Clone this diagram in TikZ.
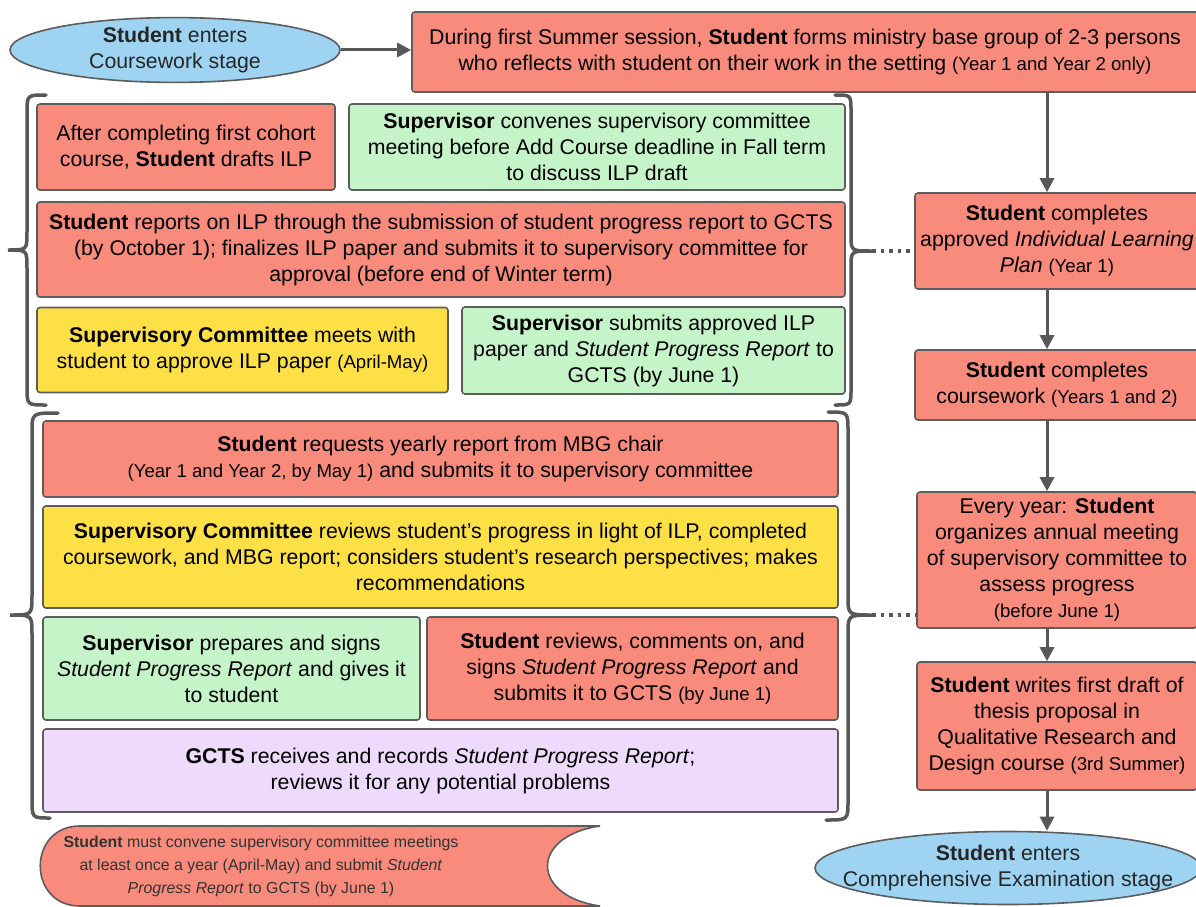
\documentclass[tikz,border=0pt]{standalone}
\usepackage{fontspec}
\setmainfont{Liberation Sans}
\usetikzlibrary{shapes.geometric, arrows.meta}
\definecolor{boxred}{RGB}{249,139,125}
\definecolor{boxgreen}{RGB}{197,244,200}
\definecolor{boxyellow}{RGB}{252,224,70}
\definecolor{boxpurple}{RGB}{238,218,250}
\definecolor{stageblue}{RGB}{158,212,242}
\definecolor{edgegray}{RGB}{92,92,92}
\definecolor{linegray}{RGB}{88,88,88}
\newcommand{\mainsize}{\fontsize{21.3}{26}\selectfont}
\newcommand{\smallnote}[1]{{\fontsize{18.6}{26}\selectfont #1}}
\tikzstyle{box} = [rectangle, rounded corners=3pt, draw=edgegray, line width=1.6pt, inner sep=0pt, align=center, text=black, font=\mainsize]
\tikzstyle{studentbox} = [box, fill=boxred]
\tikzstyle{supbox} = [box, fill=boxgreen]
\tikzstyle{combox} = [box, fill=boxyellow]
\tikzstyle{gctsbox} = [box, fill=boxpurple]
\tikzstyle{stage} = [ellipse, draw=edgegray, line width=1.6pt, fill=stageblue, inner sep=0pt, align=center, text=black!85, font=\mainsize]
\tikzstyle{arrow} = [line width=3pt, draw=linegray, -{Triangle[length=14pt,width=14pt]}]
\tikzstyle{curly} = [line width=3.5pt, draw=linegray, line cap=round]
\tikzstyle{dotline} = [line width=3.5pt, draw=linegray, dash pattern=on 3.5pt off 5pt]

\begin{document}
\begin{tikzpicture}[x=1pt, y=-1pt, node distance=100pt]
\useasboundingbox (0,0) rectangle (1196,907);
\fill[white] (0,0) rectangle (1196,907);

\node (start) [stage, minimum width=330pt, minimum height=60pt] at (175,50) {\makebox[0pt]{\textbf{Student} enters}\\\makebox[0pt]{Coursework stage}};
\node (mbg) [studentbox, minimum width=786pt, minimum height=80pt] at (805,52) {During first Summer session, \textbf{Student} forms ministry base group of 2-3 persons\\who reflects with student on their work in the setting \smallnote{(Year 1 and Year 2 only)}};
\draw [arrow] (start.east) -- (start.east -| mbg.west);

% right column
\node (ilp) [studentbox, minimum width=284pt, minimum height=96pt] at (1057,241) {\textbf{Student} completes\\approved \textit{Individual Learning}\\\textit{Plan} \smallnote{(Year 1)}};
\draw [arrow] ([xshift=-10pt]ilp.north |- mbg.south) -- ([xshift=-10pt]ilp.north);
\node (course) [studentbox, below of=ilp, yshift=-44pt, minimum width=284pt, minimum height=70pt] {\textbf{Student} completes\\coursework \smallnote{(Years 1 and 2)}};
\draw [arrow] ([xshift=-10pt]ilp.south) -- ([xshift=-10pt]course.north);
\node (annual) [studentbox, below of=course, yshift=-75pt, minimum width=280pt, minimum height=136pt] {Every year: \textbf{Student}\\organizes annual meeting\\of supervisory committee to\\assess progress\\\smallnote{(before June 1)}};
\draw [arrow] ([xshift=-10pt]course.south) -- ([xshift=-10pt]annual.north);
\node (draft) [studentbox, below of=annual, yshift=-66pt, minimum width=280pt, minimum height=128pt] {\textbf{Student} writes first draft of\\thesis proposal in\\Qualitative Research and\\Design course \smallnote{(3rd Summer)}};
\draw [arrow] ([xshift=-10pt]annual.south) -- ([xshift=-10pt]draft.north);
\node (exam) [stage, below of=draft, yshift=-42pt, xshift=-49pt, minimum width=386pt, minimum height=73pt] {\makebox[0pt]{\textbf{Student} enters}\\\makebox[0pt]{Comprehensive Examination stage}};
\draw [arrow] ([xshift=-10pt]draft.south) -- ([xshift=-10pt]draft.south |- exam.north);

% first year group
\node (cohort) [studentbox, minimum width=298pt, minimum height=86pt] at (186,147) {After completing first cohort\\course, \textbf{Student} drafts ILP};
\node (convene) [supbox, minimum width=496pt, minimum height=86pt] at (597,147) {\textbf{Supervisor} convenes supervisory committee\\meeting before Add Course deadline in Fall term\\to discuss ILP draft};
\node (report) [studentbox, minimum width=808pt, minimum height=95pt] at (441,249.5) {\textbf{Student} reports on ILP through the submission of student progress report to GCTS\\(by October 1); finalizes ILP paper and submits it to supervisory committee for\\approval (before end of Winter term)};
\node (approve) [combox, minimum width=411pt, minimum height=85pt] at (242.5,350) {\textbf{Supervisory Committee} meets with\\student to approve ILP paper \smallnote{(April-May)}};
\node (submit) [supbox, minimum width=383pt, minimum height=87pt] at (653.5,350.5) {\textbf{Supervisor} submits approved ILP\\paper and \textit{Student Progress Report} to\\GCTS (by June 1)};

\draw [curly] (46,95) .. controls (27,95) .. (27,113) -- (27,232) .. controls (27,250) .. (8,250)
              .. controls (27,250) .. (27,268) -- (27,387) .. controls (27,405) .. (46,405);
\draw [curly] (835,95) .. controls (851,95) .. (851,111) -- (851,235) .. controls (851,251) .. (872,251)
              .. controls (851,251) .. (851,267) -- (851,389) .. controls (851,405) .. (835,405);
\coordinate (tipA) at (872,251);
\draw [dotline] (tipA) -- (tipA -| ilp.west);

% yearly group
\node (request) [studentbox, minimum width=795pt, minimum height=76pt] at (440.5,459) {\textbf{Student} requests yearly report from MBG chair\\\smallnote{(Year 1 and Year 2, by May 1)} and submits it to supervisory committee};
\node (review) [combox, minimum width=795pt, minimum height=102pt] at (440.5,557) {\textbf{Supervisory Committee} reviews student's progress in light of ILP, completed\\coursework, and MBG report; considers student's research perspectives; makes\\recommendations};
\node (prepare) [supbox, minimum width=377pt, minimum height=103pt] at (231.5,668.5) {\textbf{Supervisor} prepares and signs\\\textit{Student Progress Report} and gives it\\to student};
\node (signs) [studentbox, minimum width=411pt, minimum height=103pt] at (632.5,668.5) {\textbf{Student} reviews, comments on, and\\signs \textit{Student Progress Report} and\\submits it to GCTS \smallnote{(by June 1)}};
\node (records) [gctsbox, minimum width=795pt, minimum height=83pt] at (440.5,770.5) {\textbf{GCTS} receives and records \textit{Student Progress Report};\\reviews it for any potential problems};

\draw [curly] (58,413) .. controls (32,413) .. (32,432) -- (32,596) .. controls (32,615) .. (10,615)
              .. controls (32,615) .. (32,634) -- (32,799) .. controls (32,818) .. (50,818);
\draw [curly] (828,412) .. controls (848,412) .. (848,431) -- (848,596) .. controls (848,615) .. (872,615)
              .. controls (848,615) .. (848,634) -- (848,801) .. controls (848,820) .. (826,820);
\coordinate (tipB) at (872,615);
\draw [dotline] (tipB) -- (tipB -| annual.west);

% reminder
\draw [fill=boxred, draw=edgegray, line width=1.6pt] (80,826) -- (600,826) .. controls (530,836) and (530,896) .. (600,906)
      -- (80,906) .. controls (27,906) and (27,826) .. (80,826) -- cycle;
\node (remind) [align=center, text=black!80, font=\fontsize{15.9}{23}\selectfont] at (261,866) {\textbf{Student} must convene supervisory committee meetings\\at least once a year (April-May) and submit \textit{Student}\\\textit{Progress Report} to GCTS (by June 1)};

\end{tikzpicture}
\end{document}
